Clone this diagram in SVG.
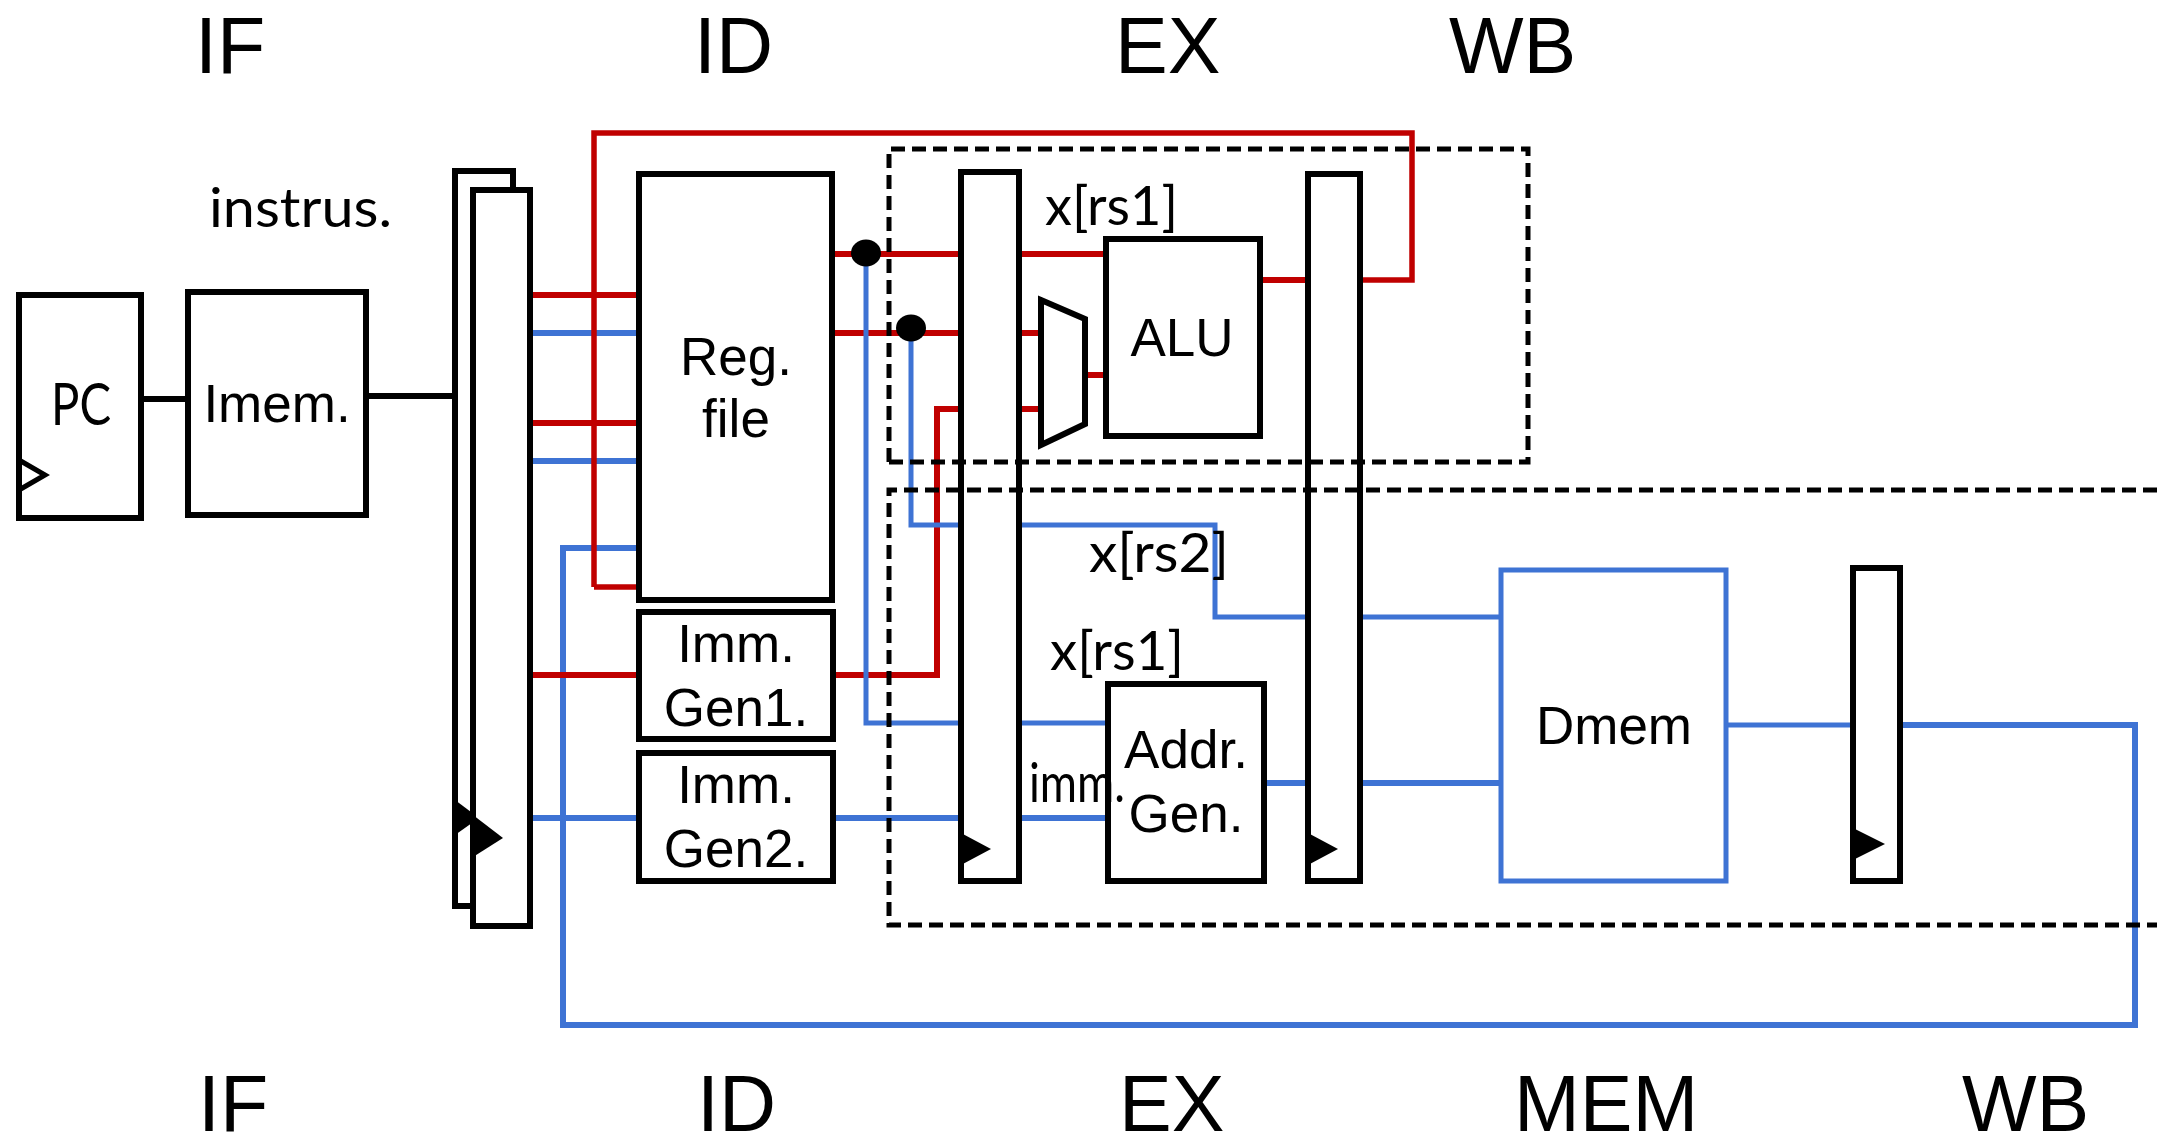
<svg xmlns="http://www.w3.org/2000/svg" width="2157" height="1135" viewBox="0 0 2157 1135">
<style>
.box{fill:#fff;stroke:#000;stroke-width:6}
.clk{fill:#000}
.r{fill:none;stroke:#c00000;stroke-width:6}
.bl{fill:none;stroke:#3e73d4;stroke-width:5}
.k{fill:none;stroke:#000;stroke-width:6}
.dash{fill:none;stroke:#000;stroke-width:5;stroke-dasharray:14 7}
text{font-family:"Liberation Sans",Arial,sans-serif;fill:#000}
.t{font-size:53px;text-anchor:middle}
.st{font-size:79px}
.h{font-family:Lato,"Open Sans",sans-serif;font-size:54px}
</style>
<rect width="2157" height="1135" fill="#fff"/>
<g id="connectors">
<path class="k" d="M138 399H188"/>
<path class="k" d="M366 396H455"/>
<path class="bl" style="stroke-width:6" d="M530 333H639M530 461H639"/>
<path class="bl" style="stroke-width:6" d="M639 548H563V1025H2135V725H1901"/>
<path class="bl" d="M1726 725H1853"/>
<path class="bl" style="stroke-width:6" d="M530 818H642"/>
<path class="bl" style="stroke-width:6" d="M833 818H1108"/>
<path class="bl" style="stroke-width:6" d="M1264 783H1501"/>
<path class="r" d="M530 295H639M530 423H639"/>
<path class="r" d="M530 675H639"/>
<path class="r" style="stroke-width:5.5" d="M594 587H639M594 587V133H1412V280H1340"/>
<path class="r" d="M1257 280H1308"/>
<path class="r" d="M833 254H1106"/>
<path class="r" d="M833 333H1041"/>
<path class="r" d="M833 675H937V409H1041"/>
<path class="r" d="M1085 375H1106"/>
<path class="bl" d="M866 253V723H1108"/>
<path class="bl" d="M911 328V525H1215V617H1501"/>
<ellipse cx="866" cy="253" rx="15" ry="13.5"/>
<ellipse cx="911" cy="328" rx="15" ry="13.5"/>
</g>
<g id="pc"><rect class="box" x="19" y="295" width="122" height="223"/><path d="M19 460L45 475L19 490" fill="none" stroke="#000" stroke-width="5"/><text class="h" x="51" y="425" textLength="60" lengthAdjust="spacingAndGlyphs" style="font-size:58px">PC</text></g>
<g id="imem"><rect class="box" x="188" y="292" width="178" height="223"/><text class="t" x="277" y="422">Imem.</text></g>
<g id="latch-if-back"><rect class="box" x="455" y="171" width="58" height="735"/><path class="clk" d="M455 800L479 818L455 835Z"/></g>
<g id="latch-if-front"><rect class="box" x="473" y="190" width="57" height="736"/><path class="clk" d="M473 815L503 838L473 857Z"/></g>
<g id="regfile"><rect class="box" x="639" y="174" width="193" height="426"/><text class="t" x="736" y="375">Reg.</text><text class="t" x="736" y="437">file</text></g>
<g id="immgen1"><rect class="box" x="639" y="612" width="194" height="127"/><text class="t" x="736" y="662">Imm.</text><text class="t" x="736" y="726">Gen1.</text></g>
<g id="immgen2"><rect class="box" x="639" y="753" width="194" height="128"/><text class="t" x="736" y="803">Imm.</text><text class="t" x="736" y="867">Gen2.</text></g>
<g id="latch-id"><rect class="box" x="961" y="172" width="58" height="709"/><path class="clk" d="M961 833L991 849L961 865Z"/></g>
<g id="mux"><path class="box" d="M1041 300L1085 319V424L1041 445Z"/></g>
<g id="alu"><rect class="box" x="1106" y="239" width="154" height="197"/><text class="t" x="1182" y="356">ALU</text></g>
<g id="addrgen"><rect class="box" x="1108" y="684" width="156" height="197"/><text class="t" x="1186" y="768">Addr.</text><text class="t" x="1186" y="832">Gen.</text></g>
<g id="latch-ex"><rect class="box" x="1308" y="174" width="52" height="707"/><path class="clk" d="M1308 833L1338 849L1308 865Z"/></g>
<g id="dmem"><rect x="1501" y="570" width="225" height="311" fill="#fff" stroke="#3e73d4" stroke-width="5"/><text class="t" x="1614" y="744">Dmem</text></g>
<g id="latch-mem"><rect class="box" x="1853" y="568" width="47" height="313"/><path class="clk" d="M1853 828L1885 844L1853 860Z"/></g>
<g id="stage-regions">
<path class="dash" d="M889 462V149H1528V462H889"/>
<path class="dash" d="M2157 490H889V925H2157"/>
</g>
<g id="signal-labels">
<text class="h" x="209" y="227" textLength="183" lengthAdjust="spacingAndGlyphs">instrus.</text>
<text class="h" x="1045" y="225" textLength="133" lengthAdjust="spacingAndGlyphs">x[rs1]</text>
<text class="h" x="1089" y="572" textLength="140" lengthAdjust="spacingAndGlyphs">x[rs2]</text>
<text class="h" x="1050" y="670" textLength="134" lengthAdjust="spacingAndGlyphs">x[rs1]</text>
<text class="h" x="1029" y="802" textLength="96" lengthAdjust="spacingAndGlyphs">imm.</text>
</g>
<g id="stage-labels">
<text class="st" x="195" y="73">IF</text>
<text class="st" x="694" y="73">ID</text>
<text class="st" x="1115" y="73">EX</text>
<text class="st" x="1449" y="73">WB</text>
<text class="st" x="198" y="1131">IF</text>
<text class="st" x="697" y="1131">ID</text>
<text class="st" x="1119" y="1131">EX</text>
<text class="st" x="1514" y="1131">MEM</text>
<text class="st" x="1962" y="1131">WB</text>
</g>
</svg>
